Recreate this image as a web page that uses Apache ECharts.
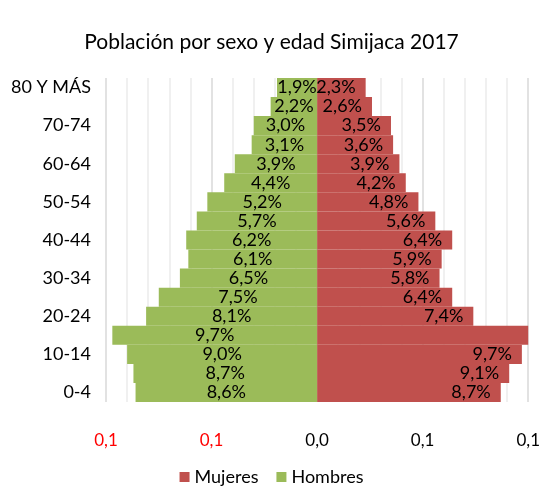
<!DOCTYPE html>
<html>
<head>
<meta charset="utf-8">
<script src="https://cdn.jsdelivr.net/npm/echarts@6/dist/echarts.min.js"></script>
<style>
  html, body { margin: 0; padding: 0; background: #fff; }
  #chart { width: 543px; height: 497px; }
</style>
</head>
<body>
<div id="chart"></div>
<script>
// grupos de edad, de abajo hacia arriba
var edades = ['0-4', '5-9', '10-14', '15-19', '20-24', '25-29', '30-34', '35-39', '40-44',
  '45-49', '50-54', '55-59', '60-64', '65-69', '70-74', '75-79', '80 Y MÁS'];
// proporciones (fracción del total)
var hombres = [0.086, 0.087, 0.090, 0.097, 0.081, 0.075, 0.065, 0.061, 0.062,
  0.057, 0.052, 0.044, 0.039, 0.031, 0.030, 0.022, 0.019];
var mujeres = [0.087, 0.091, 0.097, 0.104, 0.074, 0.064, 0.058, 0.059, 0.064,
  0.056, 0.048, 0.042, 0.039, 0.036, 0.035, 0.026, 0.023];
var ticksX = [-0.1, -0.05, 0, 0.05, 0.1];

var fuente = 'Lato, "Open Sans", sans-serif';
function pct(v) {
  return (Math.abs(v) * 100).toFixed(1).replace('.', ',') + '%';
}

var chart = echarts.init(document.getElementById('chart'));
chart.setOption({
  animation: false,
  textStyle: { fontFamily: fuente },
  title: {
    text: 'Población por sexo y edad Simijaca 2017',
    left: 'center',
    top: 27,
    textStyle: { fontFamily: fuente, fontSize: 21, fontWeight: 'normal', color: '#000' }
  },
  legend: {
    data: ['Mujeres', 'Hombres'],
    bottom: 6,
    left: 'center',
    icon: 'rect',
    itemWidth: 10,
    itemHeight: 10,
    itemGap: 18,
    textStyle: { fontFamily: fuente, fontSize: 18, color: '#000' }
  },
  grid: { left: 106, right: 12, top: 78, bottom: 95 },
  xAxis: {
    type: 'value',
    min: ticksX[0],
    max: ticksX[ticksX.length - 1],
    interval: 0.05,
    axisLine: { show: false },
    axisTick: { show: false },
    axisLabel: {
      margin: 30,
      fontSize: 17,
      fontFamily: fuente,
      formatter: function (v) { return Math.abs(v).toFixed(1).replace('.', ','); },
      color: function (v) { return v < 0 ? '#ff0000' : '#000'; }
    },
    splitLine: { show: true, lineStyle: { color: '#d9d9d9', width: 1.5 } },
    minorTick: { show: false, splitNumber: 5 },
    minorSplitLine: { show: true, lineStyle: { color: '#ececec', width: 1.5 } }
  },
  yAxis: {
    type: 'category',
    data: edades,
    axisLine: { show: false },
    axisTick: { show: false },
    axisLabel: { interval: 1, margin: 15, fontSize: 18, fontFamily: fuente, color: '#000' }
  },
  series: [
    {
      name: 'Mujeres',
      type: 'bar',
      barCategoryGap: 0,
      barGap: '-100%',
      clip: true,
      itemStyle: { color: '#c0504d' },
      label: {
        show: true,
        position: 'insideRight',
        distance: 10,
        fontSize: 18,
        fontFamily: fuente,
        color: '#000',
        formatter: function (p) { return pct(p.value); }
      },
      data: mujeres.map(function (v, i) {
        return edades[i] === '15-19' ? { value: v, label: { show: false } } : v;
      })
    },
    {
      name: 'Hombres',
      type: 'bar',
      barCategoryGap: 0,
      barGap: '-100%',
      itemStyle: { color: '#9bbb59' },
      label: {
        show: true,
        position: 'inside',
        fontSize: 18,
        fontFamily: fuente,
        color: '#000',
        formatter: function (p) { return pct(p.value); }
      },
      data: hombres.map(function (v) { return -v; })
    }
  ]
});
</script>
</body>
</html>
